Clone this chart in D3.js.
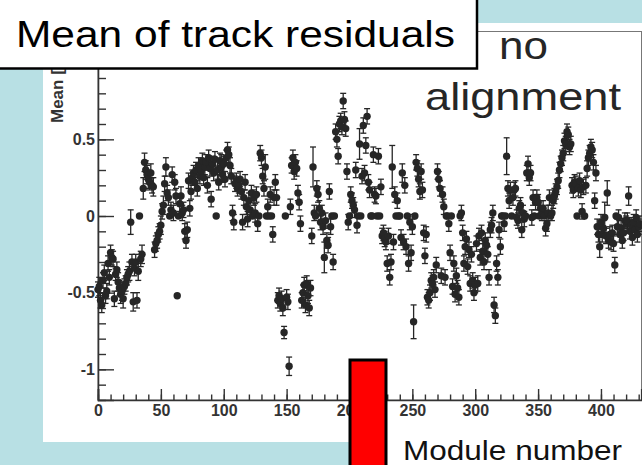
<!DOCTYPE html>
<html><head><meta charset="utf-8">
<script src="https://cdn.jsdelivr.net/npm/d3@7/dist/d3.min.js"></script>
<style>html,body{margin:0;padding:0;background:#fff;overflow:hidden}svg{display:block}</style>
</head><body>
<svg id="chart" width="642" height="465"></svg>
<script>
// ---- data ----
const titleText = "Mean of track residuals";
const noteLines = ["no", "alignment"];
const xAxisTitle = "Module number";
const yAxisTitle = "Mean [cm]";
const xTickValues = [0, 50, 100, 150, 200, 250, 300, 350, 400];
const yTickValues = [-1, -0.5, 0, 0.5, 1];
const yTickLabels = ["-1", "-0.5", "0", "0.5", "1"];

// mean residual per module (module number = index)
const meanValues = [
-0.48,-0.46,-0.55,-0.58,-0.42,-0.37,-0.52,-0.49,-0.31,-0.40,
-0.24,-0.27,-0.28,-0.54,-0.38,-0.35,-0.43,-0.47,-0.51,-0.49,
-0.54,-0.46,-0.44,-0.40,-0.38,-0.36,-0.04,-0.30,-0.56,-0.34,
-0.30,-0.55,-0.36,0,-0.28,-0.25,0.18,0.35,0.30,0.27,
0.24,0.22,0.28,0.20,0.19,-0.22,-0.18,-0.16,-0.12,-0.10,
-0.06,0.03,0.07,0.21,0.32,0.15,0.12,0,0.04,0.27,
0.02,0.22,0.13,-0.52,0,0.08,0.13,0.02,0.04,-0.10,
-0.16,-0.09,0.23,0.05,0.16,0.25,0.28,0.22,0.30,0.18,
0.33,0.26,0.29,0.36,0.25,0.32,0.35,0.20,0.38,0.31,
0.11,0.34,0.28,0.37,0,0.30,0.22,0.36,0.32,0.27,
0.34,0.24,0.38,0.43,0.40,0.33,0.26,0.02,-0.04,0.21,
0.23,0.18,0.20,0.24,0.16,-0.04,0.12,0.22,0.06,-0.02,
0.10,0.04,0.15,0,0.12,0.02,0.14,-0.05,0,0.41,
0.38,0.26,0.18,0.32,0,0.06,0,0.14,0,-0.12,
0.12,0.22,0.12,-0.55,-0.52,-0.57,-0.54,-0.60,-0.76,0,
-0.53,-0.56,-0.98,0.06,0.33,0.38,0.29,0.35,0.31,0.15,
0.09,-0.05,-0.55,-0.50,-0.45,-0.58,-0.44,-0.52,-0.60,-0.47,
-0.13,0.32,0.02,0,0.18,0.14,0.05,-0.04,0.02,-0.07,
-0.27,-0.03,-0.16,-0.19,0.16,-0.07,0,-0.30,0,0.55,
0.50,0.39,0.60,0.62,0.58,0.75,0.63,0.57,0.29,-0.04,
0,0.14,0.10,0.07,0.04,0.30,-0.06,0,0.47,0,
0.26,0.59,0.28,0.46,0.65,0.22,0.17,0,0,0.40,
0.14,0.13,0,0.39,0,0.19,-0.13,-0.11,-0.15,-0.17,
-0.31,-0.13,-0.40,-0.30,0.32,-0.17,0.14,0,0.10,0,
0,-0.14,0.28,-0.17,0.20,-0.20,0,-0.31,-0.04,-0.24,
-0.07,-0.69,0,0.35,0.31,0.24,0.16,0.29,0.17,-0.11,
-0.26,-0.12,-0.53,-0.55,-0.50,-0.42,-0.44,-0.40,-0.48,-0.32,
0.29,0.24,0.18,-0.39,0.14,0.06,-0.40,0,0,-0.05,
-0.24,0,-0.46,-0.31,-0.51,-0.39,-0.47,-0.53,0,0.02,
-0.11,-0.31,-0.20,-0.15,-0.33,-0.22,-0.44,-0.25,-0.42,-0.50,
-0.45,-0.18,-0.44,-0.13,-0.27,-0.11,-0.23,-0.30,-0.16,-0.19,
-0.25,-0.40,-0.09,-0.06,0.02,-0.58,-0.65,-0.31,-0.40,-0.09,
-0.20,0,0,-0.05,0,0.39,0.18,0.10,0.17,0,
0.12,0.17,0.18,-0.01,-0.03,0.05,0.07,-0.09,0.02,-0.02,
0,0.28,0.34,0.25,0.28,-0.01,0.12,0,0.09,0.12,
0.09,0,0.05,0.02,0.05,0,-0.08,-0.05,0.02,0.12,
0,0.02,0.10,0.13,0.16,0.19,0.23,0.30,0.34,0.38,
0.41,0.49,0.47,0.55,0.53,0.45,0.47,0.20,0.17,0.22,
0.21,0,0.18,0.23,0.17,0.03,0.19,0,0.20,0.31,
0.38,0.41,0.45,0.43,0.35,0.10,0.28,-0.07,-0.12,-0.20,
-0.04,-0.12,-0.08,-0.01,-0.13,0.15,-0.16,-0.12,-0.17,-0.11,
-0.18,-0.32,0,-0.07,-0.01,-0.12,-0.08,-0.16,-0.11,-0.03,
-0.05,-0.03,0.13,-0.10,-0.06,-0.14,-0.04,-0.09,-0.01,-0.12,
-0.07,-0.05
];
// statistical error of the mean per module
const meanErrors = [
.05,.06,.05,.05,.05,.05,.05,.05,.05,.05,
.05,.05,.05,.05,.04,.05,.06,.05,.06,.06,
.06,.05,.05,.05,.05,.06,.08,.05,.06,.05,
.05,.05,.06,0,.05,.06,.07,.06,.06,.06,
.06,.05,.06,.05,.06,.05,.05,.05,.05,.05,
.06,.05,.06,.05,.06,.05,.05,0,.05,.05,
.05,.05,.05,0,0,.05,.06,.05,.05,.05,
.05,.05,.05,.05,.05,.05,.05,.05,.05,.05,
.05,.05,.05,.05,.05,.05,.05,.05,.05,.05,
.05,.05,.05,.05,0,.06,.05,.05,.08,.05,
.05,.05,.05,.05,.05,.05,.05,.05,.05,.05,
.05,.05,.05,.05,.05,.05,.05,.05,.05,.05,
.05,.05,.05,0,.05,.06,.05,.05,0,.05,
.05,.05,.05,.08,0,.05,0,.05,0,.05,
.05,.05,.05,.05,.05,.05,.05,.05,.04,0,
.05,.05,.06,.05,.05,.05,.05,.05,.05,.05,
.05,.05,.05,.05,.05,.05,.05,.05,.05,.05,
.05,.13,.05,0,.05,.05,.05,.05,.05,.05,
.10,.05,.05,.05,.05,.05,0,.05,0,.05,
.05,.05,.05,.05,.05,.05,.05,.05,.05,.05,
0,.05,.05,.05,.05,.05,.05,0,.10,0,
.05,.05,.05,.05,.05,.05,.05,0,0,.05,
.05,.05,0,.05,0,.05,.05,.05,.05,.05,
.05,.05,.05,.05,.14,.05,.05,0,.05,0,
0,.05,.06,.05,.05,.05,0,.05,.05,.05,
.05,.11,0,.05,.05,.05,.05,.05,.05,.05,
.05,.05,.05,.05,.05,.05,.05,.05,.05,.05,
.05,.05,.05,.05,.05,.05,.05,0,0,.05,
.05,0,.05,.05,.05,.05,.05,.05,0,.05,
.05,.05,.05,.05,.05,.05,.05,.05,.05,.05,
.05,.05,.05,.05,.05,.05,.05,.05,.05,.05,
.05,.05,.05,.05,.05,.05,.05,.05,.05,.05,
.05,0,0,.05,0,.12,.05,.05,.05,0,
.05,.05,.05,.05,.05,.05,.05,.05,.05,.05,
0,.05,.05,.05,.05,.05,.05,0,.05,.05,
.05,0,.05,.05,.05,0,.05,.05,.05,.05,
0,.05,.05,.05,.05,.05,.05,.05,.05,.05,
.05,.05,.05,.05,.05,.05,.05,.05,.05,.05,
.05,0,.05,.05,.05,.05,.05,0,.05,.05,
.05,.05,.05,.05,.05,.05,.05,.05,.05,.07,
.05,.05,.05,.10,.05,.08,.05,.05,.05,.05,
.05,.05,0,.05,.05,.05,.05,.05,.05,.05,
.05,.05,.06,.05,.05,.05,.05,.05,.05,.05,
.05,.05
];

// ---- drawing ----
const svg = d3.select("#chart");
const FONT = "'Liberation Sans', Arial, Helvetica, sans-serif";
const ink = "#262626";

// slide background
svg.append("rect").attr("x",0).attr("y",0).attr("width",642).attr("height",465).attr("fill","#b8e0e4");
// white canvas of the plot
svg.append("rect").attr("x",43).attr("y",23).attr("width",599).attr("height",419).attr("fill","#fff");
svg.append("rect").attr("x",386).attr("y",440).attr("width",256).attr("height",25).attr("fill","#fff");

const x = d3.scaleLinear().domain([0, 432]).range([98, 641.2]);
const y = d3.scaleLinear().domain([-1.2, 1.2]).range([400, 32]);

// frame
svg.append("rect").attr("x",98).attr("y",31.5).attr("width",543.5).attr("height",368.5)
  .attr("fill","none").attr("stroke","#777").attr("stroke-width",1);

// axes
const gx = svg.append("g").attr("transform","translate(0,400)");
gx.call(d3.axisBottom(x).tickValues(d3.range(0,433,10)).tickSize(-5.5).tickFormat(""));
const gxMaj = svg.append("g").attr("transform","translate(0,400)");
gxMaj.call(d3.axisBottom(x).tickValues(xTickValues).tickSize(-11).tickPadding(16).tickFormat(d3.format("d")));

const gy = svg.append("g").attr("transform","translate(98,0)");
gy.call(d3.axisLeft(y).tickValues(d3.range(-12,13).map(k=>k/10)).tickSize(-8).tickFormat(""));
const gyMaj = svg.append("g").attr("transform","translate(98,0)");
gyMaj.call(d3.axisLeft(y).tickValues(yTickValues).tickSize(-16).tickPadding(3)
  .tickFormat((d,i)=>yTickLabels[i]));

[gx,gxMaj,gy,gyMaj].forEach(g=>{
  g.attr("font-size",null).attr("font-family",null);
  g.selectAll("path.domain").attr("stroke","#333").attr("stroke-width",1.6);
  g.selectAll(".tick line").attr("stroke","#333").attr("stroke-width",1.4);
  g.selectAll(".tick text").attr("fill","#333").attr("font-family",FONT)
    .attr("font-weight","bold").attr("font-size","16px");
});
gxMaj.selectAll(".tick text").attr("dy","0");
gx.selectAll("path.domain").remove();
gy.selectAll("path.domain").remove();

// y axis title
svg.append("text").attr("transform","translate(63,123) rotate(-90)")
  .attr("font-family",FONT).attr("font-weight","bold").attr("font-size","17px")
  .attr("fill","#333").text(yAxisTitle);

// points with error bars
const pts = meanValues.map((v,i)=>({i, v, e: meanErrors[i]}));
const g = svg.append("g");
const withErr = pts.filter(d=>d.e>0);
g.selectAll("line.eb").data(withErr).join("line").attr("class","eb")
  .attr("x1",d=>x(d.i)).attr("x2",d=>x(d.i))
  .attr("y1",d=>y(d.v-d.e)).attr("y2",d=>y(d.v+d.e))
  .attr("stroke",ink).attr("stroke-width",1.3);
["lo","hi"].forEach(side=>{
  g.selectAll("line.cap"+side).data(withErr).join("line").attr("class","cap"+side)
    .attr("x1",d=>x(d.i)-3).attr("x2",d=>x(d.i)+3)
    .attr("y1",d=>y(side==="lo"?d.v-d.e:d.v+d.e)).attr("y2",d=>y(side==="lo"?d.v-d.e:d.v+d.e))
    .attr("stroke",ink).attr("stroke-width",1.3);
});
g.selectAll("circle").data(pts).join("circle")
  .attr("cx",d=>x(d.i)).attr("cy",d=>y(d.v)).attr("r",3.7).attr("fill",ink);

// title box
svg.append("rect").attr("x",-2).attr("y",-2).attr("width",479).attr("height",70.5)
  .attr("fill","#fff").attr("stroke","#000").attr("stroke-width",2.5);
svg.append("text").attr("x",16).attr("y",47).attr("font-family",FONT).attr("font-size","37px")
  .attr("textLength",439).attr("lengthAdjust","spacingAndGlyphs").attr("fill","#000").text(titleText);

// note text
svg.append("text").attr("x",499).attr("y",59).attr("font-family",FONT).attr("font-size","39px")
  .attr("textLength",49).attr("lengthAdjust","spacingAndGlyphs").attr("fill","#262626").text(noteLines[0]);
svg.append("text").attr("x",425).attr("y",110).attr("font-family",FONT).attr("font-size","39px")
  .attr("textLength",196).attr("lengthAdjust","spacingAndGlyphs").attr("fill","#262626").text(noteLines[1]);

// red marker box
svg.append("rect").attr("x",350).attr("y",360).attr("width",36).attr("height",115)
  .attr("fill","#ff0000").attr("stroke","#000").attr("stroke-width",3);

// x axis title
svg.append("text").attr("x",403).attr("y",460).attr("font-family",FONT).attr("font-size","27px")
  .attr("textLength",219).attr("lengthAdjust","spacingAndGlyphs").attr("fill","#111").text(xAxisTitle);
</script>
</body></html>
